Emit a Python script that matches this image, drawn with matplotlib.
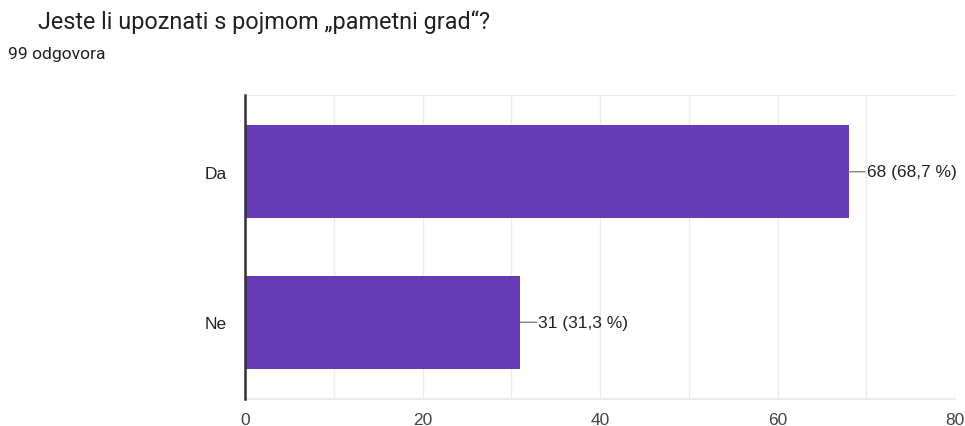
import matplotlib.pyplot as plt

categories = ["Ne", "Da"]
counts = [31, 68]
labels = ["31 (31,3 %)", "68 (68,7 %)"]
xticks = [0, 20, 40, 60, 80]

plt.rcParams['font.family'] = ['Liberation Sans', 'DejaVu Sans']

fig = plt.figure(figsize=(9.65, 4.27), dpi=100)
ax = fig.add_axes([0.2539, 0.0632, 0.7358, 0.712])

bars = ax.barh(range(len(categories)), counts, height=0.62, color="#673ab7", zorder=3)

for bar, lab in zip(bars, labels):
    x_end = bar.get_width()
    y_mid = bar.get_y() + bar.get_height() / 2
    ax.annotate("", xy=(x_end, y_mid), xytext=(12, 0), textcoords="offset points",
                arrowprops=dict(arrowstyle="-", color="#757575", lw=0.9, shrinkA=0, shrinkB=0))
    ax.annotate(lab, xy=(x_end, y_mid), xytext=(13, 0), textcoords="offset points",
                va="center", ha="left", fontsize=12.5, color="#222222")

ax.set_xlim(0, 80)
ax.set_ylim(-0.51, 1.51)
ax.set_yticks(range(len(categories)))
ax.set_yticklabels(categories, fontsize=12.5, color="#222222")
ax.set_xticks(xticks)
ax.set_xticklabels([str(t) for t in xticks], fontsize=12.5, color="#444444")
ax.set_xticks(range(0, 81, 10), minor=True)
ax.grid(axis="x", which="both", color="#ebebeb", lw=1, zorder=0)
ax.axhline(1.51, color="#ebebeb", lw=1.5, zorder=0)

ax.tick_params(axis="both", which="both", length=0)
ax.tick_params(axis="y", pad=13)
ax.tick_params(axis="x", pad=9)
for s in ["top", "right"]:
    ax.spines[s].set_visible(False)
ax.spines["bottom"].set_color("#ebebeb")
ax.spines["bottom"].set_linewidth(1.5)
ax.spines["left"].set_color("#333333")
ax.spines["left"].set_linewidth(1.8)
ax.spines["left"].set_zorder(4)

fig.text(38 / 965, 1 - 22 / 427, "Jeste li upoznati s pojmom „pametni grad“?",
         fontsize=16.8, color="#202124", va="center", ha="left", family="Roboto")
fig.text(8 / 965, 1 - 55 / 427, "99 odgovora", fontsize=12.6, color="#202124",
         va="center", ha="left", family="Roboto")

fig.savefig("out.png", dpi=100)
